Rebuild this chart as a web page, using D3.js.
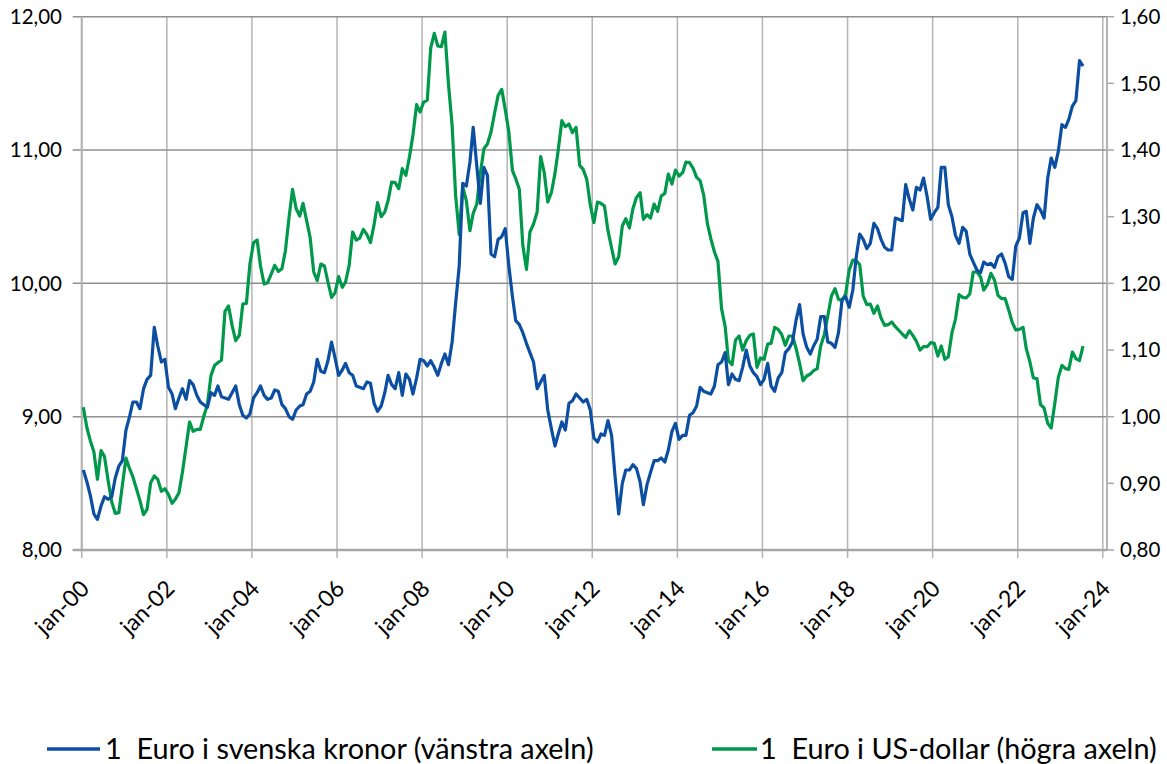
<!DOCTYPE html>
<html lang="sv">
<head>
    <meta charset="UTF-8">
    <title>Euro i SEK och USD</title>
    <style>
        body { margin: 0; background: #fff; }
        text { font-family: Lato, "Open Sans", sans-serif; fill: #000; }
        .legend text { white-space: pre; }
    </style>
    <script src="https://d3js.org/d3.v7.min.js"></script>
</head>
<body>
    <script>
        // monthly averages, jan 2000 - jul 2023
        const sekPerEuro = [
            8.60, 8.51, 8.41, 8.27, 8.23, 8.33, 8.40, 8.38, 8.40, 8.54, 8.63, 8.67,
            8.90, 9.00, 9.11, 9.11, 9.06, 9.21, 9.28, 9.31, 9.67, 9.53, 9.41, 9.43,
            9.22, 9.17, 9.06, 9.14, 9.21, 9.13, 9.27, 9.24, 9.16, 9.11, 9.09, 9.07,
            9.18, 9.16, 9.23, 9.15, 9.14, 9.13, 9.18, 9.23, 9.09, 9.01, 8.99, 9.02,
            9.14, 9.18, 9.23, 9.16, 9.13, 9.14, 9.20, 9.19, 9.09, 9.06, 9.00, 8.98,
            9.05, 9.08, 9.09, 9.17, 9.19, 9.26, 9.43, 9.34, 9.33, 9.42, 9.56, 9.44,
            9.31, 9.35, 9.40, 9.33, 9.31, 9.23, 9.22, 9.21, 9.26, 9.25, 9.10, 9.04,
            9.08, 9.18, 9.31, 9.24, 9.21, 9.33, 9.16, 9.32, 9.28, 9.17, 9.29, 9.43,
            9.42, 9.38, 9.42, 9.37, 9.31, 9.40, 9.47, 9.39, 9.56, 9.85, 10.13, 10.75,
            10.73, 10.91, 11.17, 10.88, 10.60, 10.87, 10.81, 10.22, 10.20, 10.33, 10.35, 10.41,
            10.13, 9.90, 9.72, 9.69, 9.63, 9.55, 9.48, 9.41, 9.21, 9.26, 9.31, 9.05,
            8.91, 8.78, 8.87, 8.96, 8.90, 9.10, 9.12, 9.17, 9.14, 9.11, 9.13, 9.05,
            8.84, 8.81, 8.87, 8.86, 8.97, 8.86, 8.55, 8.27, 8.50, 8.60, 8.60, 8.64,
            8.61, 8.51, 8.34, 8.49, 8.58, 8.67, 8.67, 8.69, 8.66, 8.75, 8.89, 8.95,
            8.83, 8.86, 8.86, 9.01, 9.03, 9.08, 9.22, 9.19, 9.18, 9.17, 9.23, 9.39,
            9.41, 9.48, 9.24, 9.32, 9.28, 9.27, 9.37, 9.50, 9.38, 9.33, 9.30, 9.24,
            9.28, 9.40, 9.23, 9.19, 9.29, 9.33, 9.48, 9.51, 9.56, 9.72, 9.84, 9.62,
            9.52, 9.47, 9.53, 9.58, 9.75, 9.75, 9.56, 9.55, 9.52, 9.63, 9.88, 9.90,
            9.82, 9.95, 10.19, 10.37, 10.33, 10.26, 10.30, 10.45, 10.41, 10.33, 10.27, 10.25,
            10.25, 10.49, 10.48, 10.47, 10.74, 10.63, 10.55, 10.72, 10.70, 10.79, 10.65, 10.48,
            10.53, 10.57, 10.87, 10.87, 10.59, 10.50, 10.36, 10.30, 10.42, 10.39, 10.22, 10.16,
            10.10, 10.08, 10.16, 10.14, 10.15, 10.12, 10.20, 10.22, 10.15, 10.05, 10.03, 10.28,
            10.34, 10.53, 10.54, 10.30, 10.49, 10.59, 10.55, 10.49, 10.79, 10.94, 10.87, 10.99,
            11.19, 11.17, 11.23, 11.33, 11.37, 11.67, 11.63
        ];

        const usdPerEuro = [
            1.014, 0.983, 0.964, 0.947, 0.906, 0.949, 0.940, 0.904, 0.872, 0.855, 0.856, 0.897,
            0.938, 0.922, 0.910, 0.892, 0.874, 0.853, 0.861, 0.901, 0.911, 0.906, 0.888, 0.892,
            0.883, 0.870, 0.876, 0.886, 0.917, 0.955, 0.992, 0.978, 0.981, 0.981, 1.001, 1.018,
            1.062, 1.077, 1.081, 1.085, 1.158, 1.166, 1.137, 1.114, 1.122, 1.169, 1.170, 1.229,
            1.261, 1.265, 1.226, 1.199, 1.201, 1.214, 1.227, 1.218, 1.222, 1.249, 1.299, 1.341,
            1.312, 1.301, 1.320, 1.294, 1.269, 1.217, 1.204, 1.229, 1.226, 1.202, 1.179, 1.186,
            1.210, 1.194, 1.202, 1.227, 1.277, 1.265, 1.268, 1.281, 1.273, 1.261, 1.288, 1.321,
            1.300, 1.307, 1.324, 1.352, 1.351, 1.342, 1.372, 1.362, 1.390, 1.423, 1.468, 1.457,
            1.472, 1.475, 1.553, 1.575, 1.556, 1.555, 1.577, 1.498, 1.437, 1.332, 1.273, 1.345,
            1.324, 1.279, 1.305, 1.319, 1.365, 1.402, 1.409, 1.427, 1.456, 1.482, 1.491, 1.461,
            1.427, 1.369, 1.357, 1.341, 1.257, 1.221, 1.277, 1.289, 1.307, 1.390, 1.366, 1.322,
            1.336, 1.365, 1.400, 1.444, 1.435, 1.439, 1.426, 1.434, 1.377, 1.371, 1.356, 1.318,
            1.291, 1.322, 1.320, 1.316, 1.279, 1.253, 1.229, 1.240, 1.286, 1.297, 1.283, 1.312,
            1.329, 1.336, 1.296, 1.303, 1.298, 1.319, 1.308, 1.331, 1.335, 1.364, 1.349, 1.370,
            1.361, 1.366, 1.382, 1.381, 1.373, 1.359, 1.354, 1.332, 1.290, 1.267, 1.247, 1.233,
            1.162, 1.135, 1.084, 1.078, 1.115, 1.121, 1.100, 1.114, 1.122, 1.124, 1.074, 1.088,
            1.086, 1.109, 1.110, 1.134, 1.131, 1.123, 1.107, 1.121, 1.121, 1.103, 1.080, 1.054,
            1.061, 1.064, 1.069, 1.072, 1.106, 1.123, 1.151, 1.181, 1.192, 1.176, 1.174, 1.184,
            1.220, 1.235, 1.234, 1.228, 1.181, 1.168, 1.169, 1.155, 1.166, 1.148, 1.137, 1.138,
            1.142, 1.135, 1.130, 1.124, 1.119, 1.129, 1.122, 1.113, 1.100, 1.105, 1.105, 1.111,
            1.110, 1.091, 1.106, 1.086, 1.090, 1.126, 1.146, 1.183, 1.179, 1.178, 1.184, 1.217,
            1.217, 1.210, 1.190, 1.198, 1.215, 1.205, 1.182, 1.177, 1.177, 1.160, 1.141, 1.130,
            1.131, 1.134, 1.102, 1.082, 1.058, 1.057, 1.018, 1.013, 0.990, 0.983, 1.020, 1.059,
            1.077, 1.072, 1.071, 1.097, 1.087, 1.084, 1.106
        ];

        const leftTicks = [8, 9, 10, 11, 12];
        const rightTicks = [0.8, 0.9, 1.0, 1.1, 1.2, 1.3, 1.4, 1.5, 1.6];
        const tickYears = [2000, 2002, 2004, 2006, 2008, 2010, 2012, 2014, 2016, 2018, 2020, 2022, 2024];
        const seriesNames = ["1  Euro i svenska kronor (vänstra axeln)", "1  Euro i US-dollar (högra axeln)"];
        const seriesColors = ["#0b4ea2", "#00984a"];

        const width = 1167, height = 764;
        const plot = { left: 81.7, right: 1107, top: 16.7, bottom: 550 };

        const svg = d3.select("body").append("svg")
            .attr("width", width).attr("height", height);

        // one point per month, placed mid month
        const months = d3.range(sekPerEuro.length).map(i => new Date(2000, i, 15));

        const x = d3.scaleTime()
            .domain([new Date(2000, 0, 1), new Date(2024, 1, 6)])
            .range([plot.left, plot.right]);
        const yLeft = d3.scaleLinear().domain([8, 12]).range([plot.bottom, plot.top]);
        const yRight = d3.scaleLinear().domain([0.8, 1.6]).range([plot.bottom, plot.top]);

        const comma = d3.formatLocale({ decimal: ",", thousands: " ", grouping: [3], currency: ["", " kr"] }).format(".2f");
        const fmtDate = d => "jan-" + d3.timeFormat("%y")(d);

        // gridlines
        const grid = svg.append("g");
        grid.selectAll(".vgrid").data(tickYears).enter().append("line")
            .attr("x1", d => x(new Date(d, 0, 1))).attr("x2", d => x(new Date(d, 0, 1)))
            .attr("y1", plot.top).attr("y2", plot.bottom + 8)
            .attr("stroke", "#b4b4b4").attr("stroke-width", 1.5);
        grid.selectAll(".hgrid").data(leftTicks).enter().append("line")
            .attr("x1", plot.left - 9).attr("x2", plot.right)
            .attr("y1", d => yLeft(d)).attr("y2", d => yLeft(d))
            .attr("stroke", "#8f8f8f").attr("stroke-width", 1.5);

        // axis lines
        svg.append("line")
            .attr("x1", plot.left).attr("x2", plot.left)
            .attr("y1", plot.top).attr("y2", plot.bottom)
            .attr("stroke", "#b4b4b4").attr("stroke-width", 2);
        svg.append("line")
            .attr("x1", plot.right).attr("x2", plot.right)
            .attr("y1", plot.top).attr("y2", plot.bottom)
            .attr("stroke", "#b4b4b4").attr("stroke-width", 2);
        svg.append("line")
            .attr("x1", plot.left - 9).attr("x2", plot.right)
            .attr("y1", plot.bottom).attr("y2", plot.bottom)
            .attr("stroke", "#a6a6a6").attr("stroke-width", 2.5);

        // left axis labels
        svg.append("g").selectAll("text").data(leftTicks).enter().append("text")
            .attr("x", 62).attr("y", d => yLeft(d)).attr("dy", "0.36em")
            .attr("text-anchor", "end").style("font-size", "20.5px")
            .text(d => comma(d));

        // right axis ticks and labels
        const right = svg.append("g");
        right.selectAll("line").data(rightTicks).enter().append("line")
            .attr("x1", plot.right).attr("x2", plot.right + 7)
            .attr("y1", d => yRight(d)).attr("y2", d => yRight(d))
            .attr("stroke", "#a6a6a6").attr("stroke-width", 1.5);
        right.selectAll("text").data(rightTicks).enter().append("text")
            .attr("x", plot.right + 13).attr("y", d => yRight(d)).attr("dy", "0.36em")
            .style("font-size", "20.5px")
            .text(d => comma(d));

        // x labels, rotated
        svg.append("g").selectAll("text").data(tickYears).enter().append("text")
            .attr("transform", d => `translate(${x(new Date(d, 0, 1)) + 9},${plot.bottom + 40}) rotate(-45)`)
            .attr("text-anchor", "end").style("font-size", "23px")
            .text(d => fmtDate(new Date(d, 0, 1)));

        // lines
        const lineSek = d3.line().x((d, i) => x(months[i])).y(d => yLeft(d));
        const lineUsd = d3.line().x((d, i) => x(months[i])).y(d => yRight(d));

        svg.append("path").datum(usdPerEuro)
            .attr("d", lineUsd).attr("fill", "none")
            .attr("stroke", seriesColors[1]).attr("stroke-width", 3.2)
            .attr("stroke-linejoin", "round");
        svg.append("path").datum(sekPerEuro)
            .attr("d", lineSek).attr("fill", "none")
            .attr("stroke", seriesColors[0]).attr("stroke-width", 3.2)
            .attr("stroke-linejoin", "round");

        // legend
        const legendPos = [{ x1: 47, x2: 100, tx: 105 }, { x1: 712, x2: 757, tx: 760 }];
        const legend = svg.append("g").attr("class", "legend");
        const items = legend.selectAll("g").data(seriesNames).enter().append("g");
        items.append("line")
            .attr("x1", (d, i) => legendPos[i].x1).attr("x2", (d, i) => legendPos[i].x2)
            .attr("y1", 749).attr("y2", 749)
            .attr("stroke", (d, i) => seriesColors[i]).attr("stroke-width", 3.5);
        items.append("text")
            .attr("x", (d, i) => legendPos[i].tx).attr("y", 759)
            .style("font-size", "28.8px")
            .text(d => d);
    </script>
</body>
</html>
